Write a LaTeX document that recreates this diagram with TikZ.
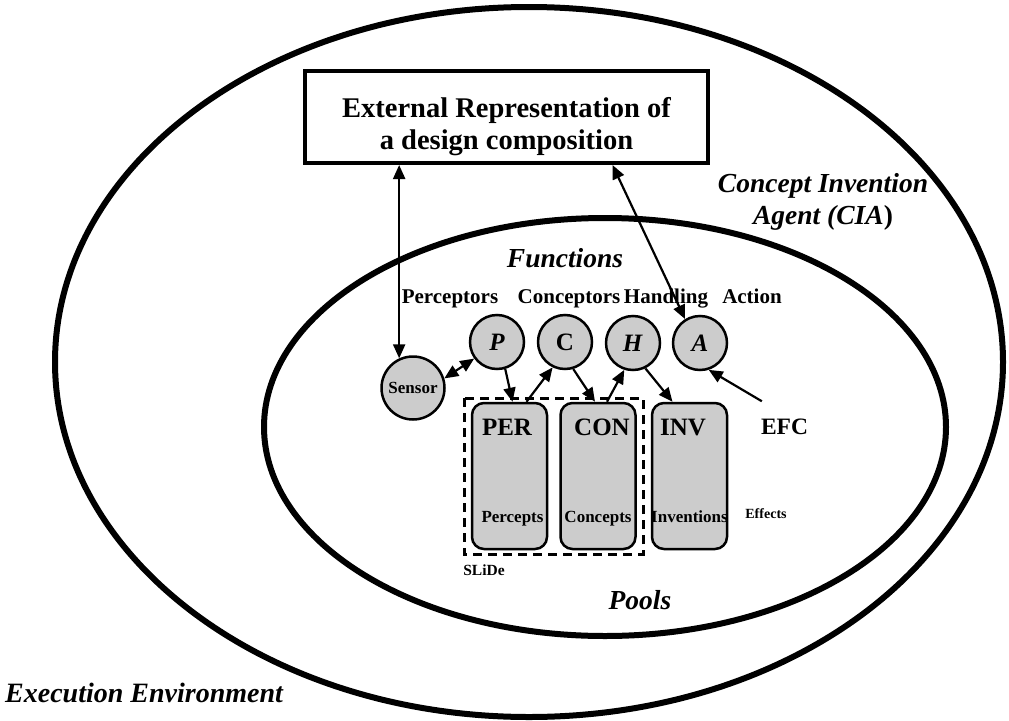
\documentclass[tikz,border=0pt]{standalone}
\usepackage{fontspec}
\setmainfont{Liberation Serif}
\usetikzlibrary{arrows.meta,calc}
\definecolor{cellgray}{RGB}{204,204,204}
\newcommand{\fsz}[1]{\fontsize{#1}{#1}\selectfont}
\tikzset{
  bigell/.style={line width=6pt},
  fn/.style={circle,draw,line width=2.5pt,fill=cellgray,minimum size=54pt,inner sep=0pt,font=\bfseries\fsz{25}},
  pool/.style={draw,line width=2.5pt,fill=cellgray,rounded corners=12pt,minimum width=75pt,minimum height=146pt,inner sep=0pt},
  lbl/.style={anchor=base,inner sep=0pt,font=\bfseries\fsz{21}},
  ttl/.style={anchor=base,inner sep=0pt,font=\bfseries\itshape\fsz{27.5}},
  con/.style={line width=2.2pt,-{Triangle[length=14pt,width=12pt]}},
  bicon/.style={line width=2.2pt,{Triangle[length=14pt,width=12pt]}-{Triangle[length=14pt,width=12pt]}},
}
\begin{document}
\begin{tikzpicture}[x=1pt,y=-1pt]
\useasboundingbox (0,0) rectangle (1009,720);
% ellipses
\draw[bigell] (529,362) ellipse [x radius=474pt, y radius=355pt];
\draw[bigell] (605,427) ellipse [x radius=341pt, y radius=209pt];
% external representation box
\node[draw,line width=4pt,minimum width=403pt,minimum height=92pt,inner sep=0pt] (ext) at (506.5,117) {};
\node[anchor=base,inner sep=0pt,font=\bfseries\fsz{28.5}] (ext1) at (506.5,117) {External Representation of};
\node[anchor=base,inner sep=0pt,font=\bfseries\fsz{28.5}] (ext2) at (506.5,149) {a design composition};
% titles
\node[ttl] (cia1) at (823,192) {Concept Invention};
\node[ttl] (cia2) at (823,224) {Agent (\textit{CIA}\textup{)}};
\node[ttl] (funcs) at (565,267) {Functions};
\node[ttl] (pools) at (640,609) {Pools};
\node[ttl,anchor=base west,font=\bfseries\itshape\fsz{28}] (exec) at (5,702) {Execution Environment};
% function labels
\node[lbl] (lper) at (450,303) {Perceptors};
\node[lbl] (lcon) at (569,303) {Conceptors};
\node[lbl] (lhan) at (666,303) {Handling};
\node[lbl] (lact) at (752,303) {Action};
% function circles
\node[fn,minimum size=63pt,font=\bfseries\fsz{17}] (sensor) at (413,388) {Sensor};
\node[fn] (P) at (497,342) {\textit{P}};
\node[fn] (C) at (565,342) {C};
\node[fn] (H) at (633,343) {\textit{H}};
\node[fn] (A) at (700,343) {\textit{A}};
% SLiDe dashed frame
\draw[line width=3pt,dash pattern=on 9pt off 6pt] (464,398) rectangle (643,554);
% pools
\node[pool] (PER) at (509.5,476) {};
\node[pool] (CON) at (598,476) {};
\node[pool] (INV) at (689.5,476) {};
\node[lbl,font=\bfseries\fsz{25}] (tper) at (507,435) {PER};
\node[lbl,font=\bfseries\fsz{25}] (tcon) at (602,435) {CON};
\node[lbl,font=\bfseries\fsz{25}] (tinv) at (683,435) {INV};
\node[lbl,font=\bfseries\fsz{17}] (percepts) at (512.5,522) {Percepts};
\node[lbl,font=\bfseries\fsz{17}] (concepts) at (598,522) {Concepts};
\node[lbl,font=\bfseries\fsz{17}] (inventions) at (689.5,522) {Inventions};
\node[lbl,font=\bfseries\fsz{14}] (effects) at (766,518) {Effects};
\node[lbl,font=\bfseries\fsz{15.5}] (slide) at (484,575) {SLiDe};
\node[lbl,font=\bfseries\fsz{23.5}] (efc) at (784.5,434) {EFC};
% connectors
\draw[bicon] (sensor.115) -- (sensor.115 |- ext.south);
\draw[bicon] (A.122) -- ([xshift=106pt]ext.south);
\draw[bicon] (sensor.17) -- (P.216);
\draw[con] (P.287) -- ([xshift=3pt]PER.north);
\draw[con] ([xshift=17pt]PER.north) -- (C.244);
\draw[con] (C.287) -- ([xshift=-3pt]CON.north);
\draw[con] ([xshift=9pt]CON.north) -- (H.252);
\draw[con] (H.296) -- ([xshift=-17pt]INV.north);
\draw[con] ([shift={(1pt,17pt)}]efc.north west) -- (A.288);
\end{tikzpicture}
\end{document}
